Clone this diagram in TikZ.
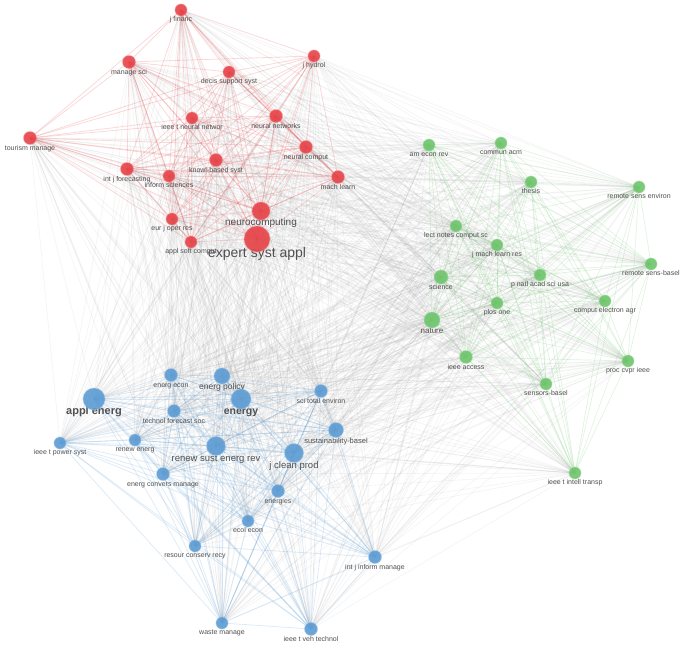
\documentclass[tikz,border=0pt]{standalone}
\usepackage{fontspec}
\setmainfont{Liberation Sans}
\usepackage{xcolor}
\usetikzlibrary{backgrounds}

\definecolor{clred}{HTML}{E64146}
\definecolor{clgreen}{HTML}{6CC46A}
\definecolor{clblue}{HTML}{5B9BD3}
\definecolor{labgrey}{HTML}{505050}

\begin{document}
\begin{tikzpicture}[
x=1pt, y=-1pt,
journal/.style={circle, inner sep=0pt, fill opacity=0.9, draw opacity=0.35, line width=1.2pt},
rednode/.style={journal, fill=clred, draw=clred!60},
greennode/.style={journal, fill=clgreen, draw=clgreen!60},
bluenode/.style={journal, fill=clblue, draw=clblue!60},
lab/.style={anchor=north, inner sep=0pt, text=labgrey, text height=0.72em, text depth=0.22em},
redlink/.style={draw=clred, line width=0.8pt, opacity=0.2},
greenlink/.style={draw=clgreen, line width=0.7pt, opacity=0.2},
bluelink/.style={draw=clblue, line width=0.8pt, opacity=0.2},
greylink/.style={draw=black!45, line width=0.8pt, opacity=0.085}
]
\useasboundingbox (0,0) rectangle (685,645);

% red cluster
\foreach \id/\x/\y/\r/\fs/\txt in {
  jfin/181/10/6/7/j financ, msci/129/62/6.5/7/manage sci,
  dss/229/72/6/7/decis support syst, jhyd/314/56/6/7/j hydrol,
  tnn/192/118/6/7/ieee t neural networ, nnet/276/116/6.5/7/neural networks,
  tour/30/138/6.5/7/tourism manage, ncomp/306/147/6.5/7/neural comput,
  ijf/127/169/6.5/7/int j forecasting, kbs/216/160/6.5/7/knowl-based syst,
  ins/169/176/6/7/inform sciences, ml/338/177/6.5/7/mach learn,
  ejor/172/219/6/7/eur j oper res, asoc/191/242/6/7/appl soft comput,
  neuro/261/211/9/10/neurocomputing, esa/257/239/13/14/expert syst appl}
{
  \node[lab, font=\fontsize{\fs}{\fs}\selectfont] (\id-l) at (\x,\y+\r-1.5) {\txt};
  \node[rednode, minimum size=2*\r] (\id) at (\x,\y) {};
}

% green cluster
\foreach \id/\x/\y/\r/\fs/\txt in {
  aer/429/145/6/7/am econ rev, cacm/501/143/6/7/commun acm,
  thes/531/182/6/7/thesis, rse/639/187/6/7/remote sens environ,
  lncs/456/226/6/7/lect notes comput sc, jmlr/497/245/6/7/j mach learn res,
  sci/441/277/7/7/science, pnas/540/275/6/7/p natl acad sci usa,
  rsb/651/264/6/7/remote sens-basel, plos/497/303/6/7/plos one,
  cea/605/301/6/7/comput electron agr, nat/432/320/8/8/nature,
  iacc/466/357/6.5/7/ieee access, cvpr/628/361/6/7/proc cvpr ieee,
  sens/546/384/6/7/sensors-basel, itits/575/473/6/7/ieee t intell transp}
{
  \node[lab, font=\fontsize{\fs}{\fs}\selectfont] (\id-l) at (\x,\y+\r-1.5) {\txt};
  \node[greennode, minimum size=2*\r] (\id) at (\x,\y) {};
}

% blue cluster
\foreach \id/\x/\y/\r/\fs/\txt in {
  eecon/171/375/6.5/7/energ econ, epol/222/376/8/8.5/energ policy,
  stoten/321/391/6.5/7/sci total environ, tfsc/174/411/6.5/7/technol forecast soc,
  tps/60/443/6/7/ieee t power syst, renen/135/440/6/7/renew energ,
  sust/336/430/7.5/7.5/sustainability-basel, rser/216/446/9.5/9.5/renew sust energ rev,
  jcp/294/453/9.5/9.5/j clean prod, ecm/163/474/6.5/7/energ convers manage,
  enes/278/491/6.5/7/energies, ecol/248/521/6/7/ecol econ,
  rcr/195/546/6/7/resour conserv recy, ijim/375/557/6.5/7/int j inform manage,
  wman/222/623/6/7/waste manage, tvt/311/629/6.5/7/ieee t veh technol}
{
  \node[lab, font=\fontsize{\fs}{\fs}\selectfont] (\id-l) at (\x,\y+\r-1.5) {\txt};
  \node[bluenode, minimum size=2*\r] (\id) at (\x,\y) {};
}
\node[lab, font=\fontsize{11}{11}\selectfont\bfseries] (aen-l) at (94,407.5) {appl energ};
\node[bluenode, minimum size=22] (aen) at (94,399) {};
\node[lab, font=\fontsize{10.5}{10.5}\selectfont\bfseries] (engy-l) at (241,407.5) {energy};
\node[bluenode, minimum size=20] (engy) at (241,399) {};

\def\redlist{jfin,msci,dss,jhyd,tnn,nnet,tour,ncomp,ijf,kbs,ins,ml,ejor,asoc,neuro,esa}
\def\greenlist{aer,cacm,thes,rse,lncs,jmlr,sci,pnas,rsb,plos,cea,nat,iacc,cvpr,sens,itits}
\def\bluelist{eecon,epol,aen,engy,stoten,tfsc,tps,renen,sust,rser,jcp,ecm,enes,ecol,rcr,ijim,wman,tvt}

\begin{scope}[on background layer]
% links between clusters
\foreach \a in \redlist {
  \foreach \b in \greenlist {\draw[greylink] (\a.center) -- (\b.center);}
  \foreach \b in \bluelist {\draw[greylink] (\a.center) -- (\b.center);}
}
\foreach \a in \greenlist {
  \foreach \b in \bluelist {\draw[greylink] (\a.center) -- (\b.center);}
}
% links within clusters
\foreach \a [count=\i] in \redlist {
  \foreach \b [count=\j] in \redlist {\ifnum\j>\i \draw[redlink] (\a.center) -- (\b.center);\fi}
}
\foreach \a [count=\i] in \greenlist {
  \foreach \b [count=\j] in \greenlist {\ifnum\j>\i \draw[greenlink] (\a.center) -- (\b.center);\fi}
}
\foreach \a [count=\i] in \bluelist {
  \foreach \b [count=\j] in \bluelist {\ifnum\j>\i \draw[bluelink] (\a.center) -- (\b.center);\fi}
}
\end{scope}
\end{tikzpicture}
\end{document}
